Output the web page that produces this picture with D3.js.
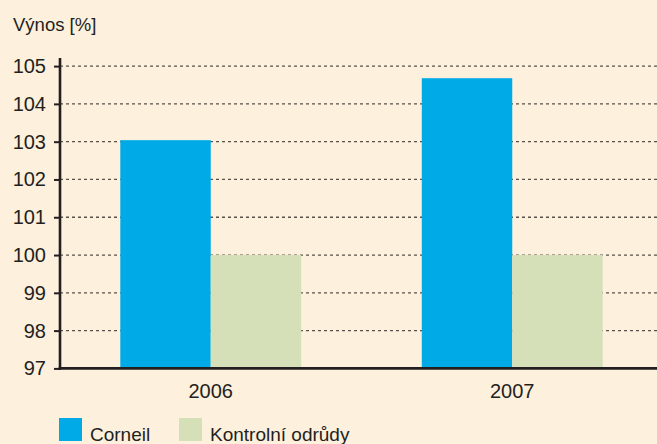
<!DOCTYPE html>
<html><head><meta charset="utf-8">
<script src="https://cdn.jsdelivr.net/npm/d3@7"></script>
<style>
html,body{margin:0;padding:0;background:#fdf0dc;}
svg{display:block;font-family:"Liberation Sans",Arial,Helvetica,sans-serif;}
</style></head>
<body>
<svg id="chart" width="657" height="444"></svg>
<script>
const categories = ["2006", "2007"];
const seriesNames = ["Corneil", "Kontrolní odrůdy"];
const corneil = [103.04, 104.68];
const kontrolni = [100, 100];
const yTicks = [97, 98, 99, 100, 101, 102, 103, 104, 105];
const yTitle = "Výnos [%]";
const colors = ["#00aae6", "#d6e0b8"];

(function () {
const svg = d3.select("#chart");
const W = 657, H = 444;
svg.append("rect").attr("width", W).attr("height", H).attr("fill", "#fdf0dc");

const mLeft = 60, mRight = 663, mTop = 66.1, mBottom = 368.4;
const x = d3.scaleBand().domain(categories).range([mLeft, mRight]).padding(0);
const y = d3.scaleLinear().domain([97, 105]).range([mBottom, mTop]);
const groupW = x.bandwidth() * 0.6;
const xs = d3.scaleBand().domain(seriesNames).range([-groupW / 2, groupW / 2]).padding(0);

// gridlines
svg.append("g").selectAll("line").data(yTicks.filter(t => t > 97)).join("line")
  .attr("x1", mLeft).attr("x2", W)
  .attr("y1", d => y(d)).attr("y2", d => y(d))
  .attr("stroke", "#5a524a").attr("stroke-width", 1.3)
  .attr("stroke-dasharray", "3,3");

// bars
const data = categories.map((c, i) => ({cat: c, vals: [corneil[i], kontrolni[i]]}));
const g = svg.append("g");
data.forEach(d => {
  d.vals.forEach((v, j) => {
    g.append("rect")
      .attr("x", x(d.cat) + x.bandwidth() / 2 + xs(seriesNames[j]))
      .attr("width", xs.bandwidth())
      .attr("y", y(v))
      .attr("height", y(97) - y(v))
      .attr("fill", colors[j]);
  });
});

// y axis
const yAxis = d3.axisLeft(y).tickValues(yTicks).tickSize(6).tickPadding(8).tickFormat(d3.format("d"));
const ya = svg.append("g").attr("transform", `translate(${mLeft},0)`).call(yAxis);
ya.select(".domain").remove();
ya.selectAll(".tick line").attr("stroke", "#231f20").attr("stroke-width", 2);
ya.selectAll(".tick text").attr("font-size", 20).attr("fill", "#231f20")
  .attr("font-family", "Liberation Sans, Arial, sans-serif");
svg.append("line").attr("x1", mLeft).attr("x2", mLeft).attr("y1", 58).attr("y2", mBottom + 1.3)
  .attr("stroke", "#231f20").attr("stroke-width", 2.6);

// x axis
const xAxis = d3.axisBottom(x).tickSize(0).tickPadding(15);
const xa = svg.append("g").attr("transform", `translate(0,${mBottom})`).call(xAxis);
xa.select(".domain").remove();
xa.selectAll(".tick text").attr("font-size", 20).attr("fill", "#231f20")
  .attr("font-family", "Liberation Sans, Arial, sans-serif");
svg.append("line").attr("x1", mLeft - 1.3).attr("x2", W).attr("y1", mBottom).attr("y2", mBottom)
  .attr("stroke", "#231f20").attr("stroke-width", 2.6);

// title
svg.append("text").attr("x", 13).attr("y", 31).attr("font-size", 18.5).attr("fill", "#231f20").text(yTitle);

// legend
const legX = [59, 179];
seriesNames.forEach((s, i) => {
  svg.append("rect").attr("x", legX[i]).attr("y", 418).attr("width", 23).attr("height", 23).attr("fill", colors[i]);
  svg.append("text").attr("x", legX[i] + 31).attr("y", 441).attr("font-size", 19).attr("fill", "#231f20").text(s);
});
})();
</script>
</body></html>
